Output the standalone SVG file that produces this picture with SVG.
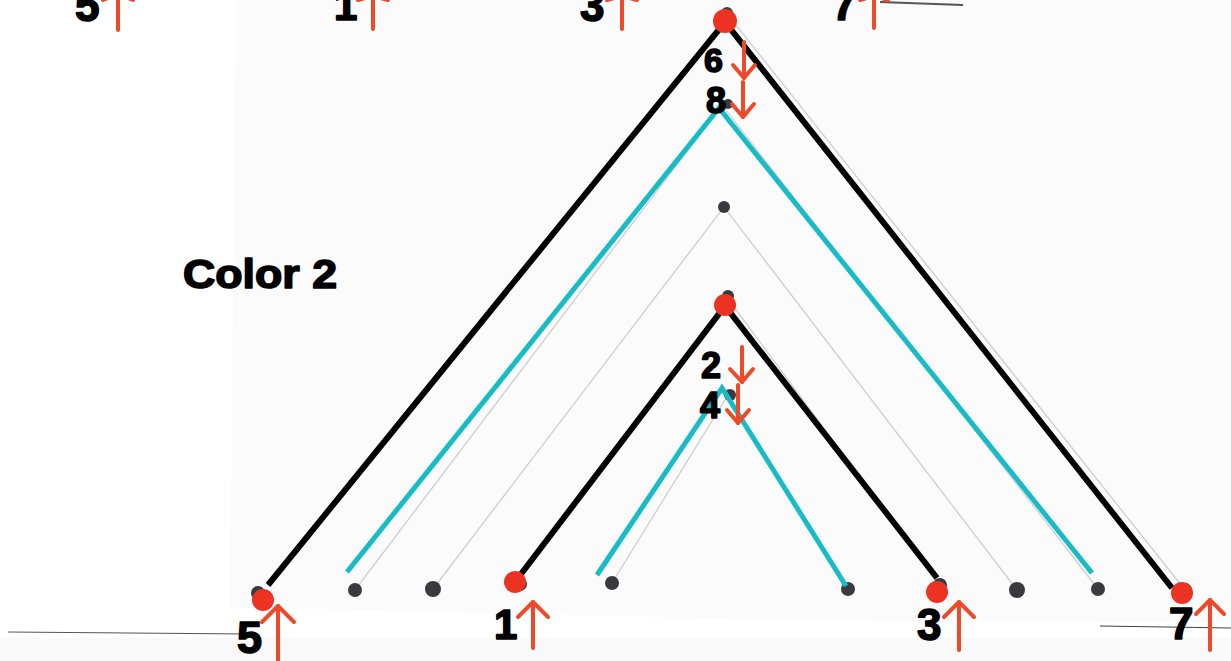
<svg xmlns="http://www.w3.org/2000/svg" width="1231" height="661" viewBox="0 0 1231 661">
<defs>
<style>
.num{font-family:"Liberation Sans","DejaVu Sans",sans-serif;font-weight:bold;fill:#000;stroke:#000;stroke-width:1.6;stroke-linejoin:round}
.blk{stroke:#000;stroke-width:6;fill:none;stroke-linecap:butt}
.cyn{stroke:#17bcc6;stroke-width:5;fill:none}
.gry{stroke:#cfcfcf;stroke-width:1.3;fill:none}
.red{fill:#ec3323}
.dot{fill:#3a3a3e}
.arr{stroke:#ee4a2a;stroke-width:4;fill:none;stroke-linecap:round;stroke-linejoin:round}
</style>
</defs>
<rect width="1231" height="661" fill="#ffffff"/>
<polygon points="236,0 1231,0 1231,622 780,620 230,607" fill="#fbfbfb"/>
<rect x="0" y="638" width="1231" height="23" fill="#f9f9f9"/>
<line x1="8" y1="632" x2="250" y2="634" stroke="#555" stroke-width="1.2"/>
<line x1="1100" y1="626" x2="1231" y2="628" stroke="#444" stroke-width="1.2"/>
<line x1="880" y1="2" x2="963" y2="5" stroke="#555" stroke-width="2"/>

<g id="faint-lines">
<polyline class="gry" points="433,589 724,207 1017,590"/>
<polyline class="gry" points="355,590 722,105 1098,589"/>
<polyline class="gry" points="612,583 728,395 848,589"/>
<polyline class="gry" points="728,15 1185,590"/>
<line class="gry" x1="734" y1="307" x2="940" y2="585"/>
</g>

<g id="pins">
<circle class="dot" cx="258" cy="593" r="7"/>
<circle class="dot" cx="355" cy="590" r="7"/>
<circle class="dot" cx="433" cy="589" r="8"/>
<circle class="dot" cx="520" cy="584" r="7"/>
<circle class="dot" cx="612" cy="583" r="7"/>
<circle class="dot" cx="848" cy="589" r="7"/>
<circle class="dot" cx="940" cy="585" r="7"/>
<circle class="dot" cx="1017" cy="590" r="8"/>
<circle class="dot" cx="1098" cy="589" r="7"/>
<circle class="dot" cx="1185" cy="590" r="7"/>
<circle class="dot" cx="724" cy="207" r="6"/>
<circle class="dot" cx="730" cy="395" r="6"/>
<circle class="dot" cx="728" cy="104" r="5"/>
<circle class="dot" cx="727" cy="13" r="6"/>
<circle class="dot" cx="728" cy="296" r="6"/>
</g>

<g id="connectors">
<polyline class="blk" points="268,585 725,22 1172,588"/>
<polyline class="cyn" points="347,572 719,108 1092,573"/>
<polyline class="blk" points="518,578 725,306 937,578"/>
<polyline class="cyn" points="597,575 722,388 846,586"/>
</g>

<g id="red-dots">
<circle class="red" cx="725" cy="21" r="12"/>
<circle class="red" cx="725" cy="305" r="11"/>
<circle class="red" cx="263" cy="600" r="11"/>
<circle class="red" cx="515" cy="582" r="11"/>
<circle class="red" cx="937" cy="592" r="11"/>
<circle class="red" cx="1182" cy="593" r="11"/>
</g>

<g id="label-color">
<text class="num" x="183" y="288" font-size="40" textLength="154" lengthAdjust="spacingAndGlyphs">Color 2</text>
</g>

<g id="label-6">
<text class="num" x="704" y="72" font-size="34">6</text>
<polyline class="arr" points="744,42 744,78"/>
<polyline class="arr" points="733,65 744,78 755,65"/>
</g>
<g id="label-8">
<text class="num" x="706" y="113" font-size="36">8</text>
<polyline class="arr" points="743,82 743,117"/>
<polyline class="arr" points="732,104 743,117 754,104"/>
</g>
<g id="label-2">
<text class="num" x="701" y="378" font-size="36">2</text>
<polyline class="arr" points="742,347 742,382"/>
<polyline class="arr" points="730,369 742,382 753,369"/>
</g>
<g id="label-4">
<text class="num" x="700" y="418" font-size="36">4</text>
<polyline class="arr" points="738,385 738,423"/>
<polyline class="arr" points="727,410 738,423 749,410"/>
</g>

<g id="label-5">
<text class="num" x="237" y="653" font-size="45">5</text>
<polyline class="arr" points="278,606 278,661"/>
<polyline class="arr" points="262,622 278,606 294,622"/>
</g>
<g id="label-1">
<text class="num" x="494" y="639" font-size="42">1</text>
<polyline class="arr" points="533,602 533,648"/>
<polyline class="arr" points="518,617 533,602 548,617"/>
</g>
<g id="label-3">
<text class="num" x="917" y="640" font-size="44">3</text>
<polyline class="arr" points="959,602 959,650"/>
<polyline class="arr" points="944,617 959,602 974,617"/>
</g>
<g id="label-7">
<text class="num" x="1169" y="639" font-size="44">7</text>
<polyline class="arr" points="1210,600 1210,650"/>
<polyline class="arr" points="1196,614 1210,600 1224,614"/>
</g>

<g id="top-strip">
<text class="num" x="75" y="21" font-size="44">5</text>
<polyline class="arr" points="118,-6 118,30"/>
<polyline class="arr" points="103,0 118,-6 133,0"/>
<text class="num" x="334" y="20" font-size="42">1</text>
<polyline class="arr" points="373,-4 373,29"/>
<polyline class="arr" points="358,0 373,-4 388,0"/>
<text class="num" x="580" y="21" font-size="44">3</text>
<polyline class="arr" points="622,-4 622,29"/>
<polyline class="arr" points="607,0 622,-4 637,0"/>
<text class="num" x="832" y="20" font-size="44">7</text>
<polyline class="arr" points="874,-4 874,28"/>
<polyline class="arr" points="860,0 874,-4 888,0"/>
</g>
</svg>
